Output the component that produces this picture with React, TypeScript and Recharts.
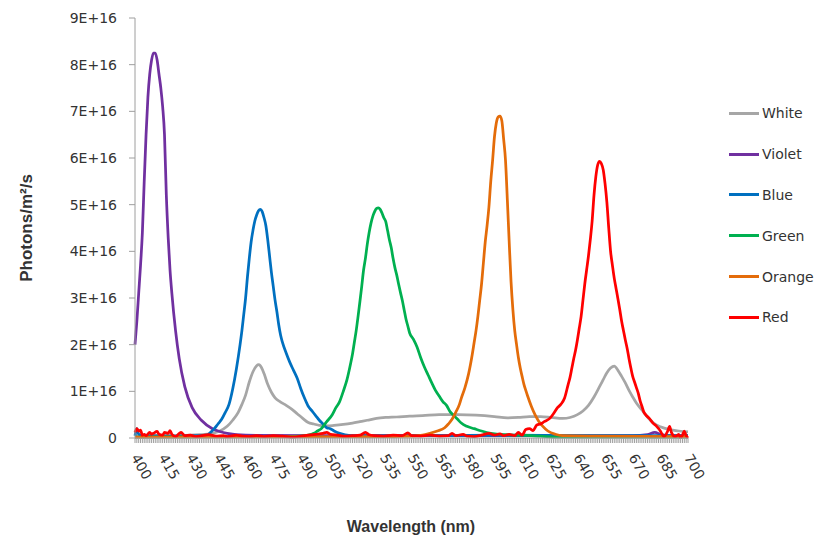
import { LineChart, Line, XAxis, YAxis, Label } from 'recharts'

// values are in units of 1E+16 photons/m²/s
const SERIES_NAMES = ['White', 'Violet', 'Blue', 'Green', 'Orange', 'Red']
const SERIES_COLORS = ['#A6A6A6', '#7030A0', '#0070C0', '#00B050', '#E46C0A', '#FF0000']

const X_LABELS = [400, 415, 430, 445, 460, 475, 490, 505, 520, 535, 550, 565, 580, 595, 610, 625, 640, 655, 670, 685, 700]
const Y_TICKS = [0, 1, 2, 3, 4, 5, 6, 7, 8, 9]

const white: [number, number][] = [
  [400, 0.05], [420, 0.05], [435, 0.07], [442, 0.1], [446, 0.15], [450, 0.25], [453, 0.38], [456, 0.55],
  [458, 0.72], [460, 0.92], [462, 1.2], [464, 1.42], [466, 1.55], [467, 1.57], [468, 1.55], [470, 1.38],
  [472, 1.15], [474, 0.98], [476, 0.86], [479, 0.77], [482, 0.7], [485, 0.62], [488, 0.52], [491, 0.42],
  [494, 0.33], [497, 0.3], [500, 0.27], [504, 0.26], [508, 0.27], [513, 0.29], [518, 0.32], [522, 0.35],
  [526, 0.38], [531, 0.42], [536, 0.44], [542, 0.45], [549, 0.47], [556, 0.48], [565, 0.5], [575, 0.5],
  [585, 0.49], [595, 0.46], [602, 0.43], [608, 0.44], [614, 0.46], [620, 0.46], [626, 0.44], [632, 0.42],
  [636, 0.44], [640, 0.5], [643, 0.58], [646, 0.7], [649, 0.88], [652, 1.1], [654, 1.25], [656, 1.4],
  [658, 1.5], [660, 1.54], [662, 1.45], [664, 1.32], [666, 1.18], [668, 1.02], [670, 0.88], [672, 0.75],
  [675, 0.6], [678, 0.45], [681, 0.33], [685, 0.24], [690, 0.18], [695, 0.15], [700, 0.13],
]

const violet: [number, number][] = [
  [400, 2.0], [401, 2.5], [402, 3.1], [403, 3.7], [404, 4.4], [405, 5.5], [406, 6.5], [407, 7.3],
  [408, 7.8], [409, 8.1], [410, 8.25], [411, 8.25], [412, 8.1], [413, 7.8], [414, 7.5], [415, 7.1],
  [416, 6.5], [417, 5.2], [418, 4.3], [419, 3.6], [420, 3.1], [422, 2.3], [424, 1.7], [427, 1.1],
  [431, 0.65], [436, 0.38], [442, 0.2], [446, 0.14], [450, 0.1], [460, 0.06], [500, 0.05], [600, 0.05],
  [670, 0.05], [678, 0.07], [682, 0.12], [685, 0.08], [690, 0.05], [700, 0.05],
]

const blue: [number, number][] = [
  [400, 0.05], [401, 0.2], [402, 0.08], [405, 0.05], [420, 0.04], [430, 0.05], [435, 0.05], [439, 0.06],
  [441, 0.12], [443, 0.2], [445, 0.3], [447, 0.4], [449, 0.55], [451, 0.72], [453, 1.05], [455, 1.48],
  [457, 2.0], [458, 2.3], [459, 2.65], [460, 3.0], [461, 3.45], [462, 3.85], [463, 4.2], [464, 4.45],
  [465, 4.65], [466, 4.78], [467, 4.87], [468, 4.9], [469, 4.85], [470, 4.72], [471, 4.55], [472, 4.25],
  [473, 3.9], [474, 3.55], [475, 3.25], [476, 2.95], [477, 2.7], [478, 2.42], [479, 2.2], [480, 2.05],
  [482, 1.82], [484, 1.62], [486, 1.45], [488, 1.28], [490, 1.05], [492, 0.85], [494, 0.68], [496, 0.58],
  [498, 0.48], [500, 0.38], [502, 0.3], [504, 0.22], [506, 0.2], [508, 0.15], [511, 0.1], [514, 0.07],
  [520, 0.05], [560, 0.05], [600, 0.06], [640, 0.05], [700, 0.05],
]

const green: [number, number][] = [
  [400, 0.02], [480, 0.03], [490, 0.04], [494, 0.06], [497, 0.1], [499, 0.15], [501, 0.2], [504, 0.35],
  [507, 0.5], [509, 0.65], [511, 0.78], [513, 1.0], [515, 1.25], [517, 1.6], [518, 1.8], [519, 2.05],
  [520, 2.3], [521, 2.6], [522, 2.92], [523, 3.25], [524, 3.6], [525, 3.85], [526, 4.15], [527, 4.4],
  [528, 4.6], [529, 4.75], [530, 4.85], [531, 4.92], [532, 4.93], [533, 4.9], [534, 4.82], [535, 4.72],
  [536, 4.64], [537, 4.45], [538, 4.25], [539, 4.08], [540, 3.85], [541, 3.65], [542, 3.49], [543, 3.3],
  [544, 3.12], [545, 2.95], [546, 2.75], [547, 2.55], [548, 2.4], [549, 2.25], [551, 2.12], [553, 1.95],
  [555, 1.72], [557, 1.52], [559, 1.35], [561, 1.18], [563, 1.02], [565, 0.9], [567, 0.78], [569, 0.7],
  [571, 0.56], [573, 0.48], [575, 0.4], [577, 0.32], [580, 0.25], [584, 0.2], [588, 0.15], [593, 0.1],
  [600, 0.07], [610, 0.06], [620, 0.04], [630, 0.02], [700, 0.02],
]

const orange: [number, number][] = [
  [400, 0.02], [540, 0.03], [550, 0.04], [556, 0.06], [560, 0.1], [564, 0.15], [568, 0.22], [570, 0.3],
  [572, 0.4], [574, 0.55], [576, 0.72], [577, 0.85], [579, 1.08], [581, 1.38], [583, 1.8], [584, 2.05],
  [585, 2.3], [586, 2.6], [587, 2.95], [588, 3.3], [589, 3.75], [590, 4.2], [591, 4.55], [592, 4.95],
  [593, 5.5], [594, 5.95], [595, 6.45], [596, 6.75], [597, 6.88], [598, 6.9], [599, 6.8], [600, 6.4],
  [601, 5.95], [602, 5.1], [603, 4.2], [604, 3.35], [605, 2.75], [606, 2.3], [607, 2.0], [608, 1.72],
  [609, 1.5], [610, 1.32], [611, 1.15], [612, 1.02], [613, 0.9], [615, 0.68], [617, 0.5], [619, 0.36],
  [621, 0.26], [624, 0.15], [628, 0.08], [632, 0.05], [650, 0.04], [700, 0.03],
]

const red: [number, number][] = [
  [400, 0.12], [401, 0.2], [402, 0.15], [403, 0.17], [404, 0.06], [405, 0.08], [406, 0.05], [408, 0.12],
  [409, 0.08], [410, 0.1], [412, 0.14], [413, 0.08], [415, 0.06], [416, 0.12], [418, 0.1], [419, 0.16],
  [420, 0.08], [422, 0.03], [424, 0.1], [425, 0.12], [427, 0.05], [430, 0.06], [433, 0.03], [436, 0.05],
  [440, 0.07], [444, 0.04], [448, 0.05], [450, 0.03], [455, 0.06], [458, 0.04], [462, 0.03], [466, 0.05],
  [470, 0.03], [475, 0.05], [480, 0.04], [486, 0.02], [490, 0.04], [494, 0.06], [498, 0.08], [502, 0.1],
  [504, 0.12], [506, 0.08], [510, 0.06], [514, 0.04], [518, 0.05], [522, 0.06], [525, 0.12], [527, 0.07],
  [530, 0.05], [535, 0.04], [540, 0.06], [545, 0.05], [548, 0.11], [550, 0.05], [555, 0.04], [560, 0.06],
  [565, 0.04], [570, 0.05], [572, 0.1], [574, 0.05], [578, 0.08], [580, 0.04], [584, 0.03], [588, 0.06],
  [592, 0.1], [595, 0.06], [598, 0.09], [600, 0.05], [603, 0.08], [606, 0.05], [608, 0.12], [610, 0.06],
  [612, 0.18], [614, 0.2], [616, 0.16], [618, 0.28], [620, 0.3], [622, 0.35], [625, 0.42], [627, 0.52],
  [629, 0.64], [631, 0.72], [633, 0.85], [635, 1.15], [636, 1.3], [637, 1.5], [638, 1.7], [639, 1.88],
  [640, 2.1], [641, 2.35], [642, 2.6], [643, 2.95], [644, 3.3], [645, 3.6], [646, 3.9], [647, 4.25],
  [648, 4.65], [649, 5.2], [650, 5.6], [651, 5.85], [652, 5.93], [653, 5.88], [654, 5.75], [655, 5.45],
  [656, 5.05], [657, 4.5], [658, 4.0], [659, 3.7], [660, 3.42], [661, 3.2], [662, 2.98], [663, 2.75],
  [664, 2.5], [665, 2.3], [666, 2.1], [667, 1.92], [668, 1.7], [669, 1.5], [670, 1.32], [671, 1.2],
  [672, 1.08], [673, 0.96], [674, 0.8], [675, 0.68], [676, 0.56], [677, 0.5], [679, 0.42], [681, 0.32],
  [683, 0.25], [685, 0.15], [686, 0.08], [687, 0.03], [689, 0.15], [690, 0.25], [691, 0.12], [693, 0.03],
  [695, 0.08], [696, 0.01], [697, 0.06], [698, 0.15], [699, 0.05], [700, 0.0],
]

const SERIES_DATA = [white, violet, blue, green, orange, red]

// one small tick per nm, like the category axis of the original
const MINOR_TICKS = Array.from({ length: 301 }, (_, i) => 400 + i)

const FONT = '"DejaVu Sans", sans-serif'
const TITLE_FONT = '"Liberation Sans", sans-serif'
const TEXT_COLOR = '#333'
const AXIS_COLOR = '#9e9e9e'

function WavelengthTick({ x, y, payload }: any) {
  if (!X_LABELS.includes(payload.value)) return null
  const ty = y + 10
  return (
    <text
      x={x}
      y={ty}
      transform={`rotate(60, ${x}, ${ty})`}
      textAnchor="start"
      dominantBaseline="central"
      fontSize={14}
      fontFamily={FONT}
      fill={TEXT_COLOR}
    >
      {payload.value}
    </text>
  )
}

export default function App() {
  return (
    <div style={{ position: 'absolute', left: 0, top: 0, width: 814, height: 540, background: '#fff' }}>
      <LineChart width={814} height={540} margin={{ top: 18, right: 126, bottom: 6, left: 0 }}>
        <XAxis
          type="number"
          dataKey="nm"
          domain={[400, 700]}
          ticks={MINOR_TICKS}
          interval={0}
          tick={<WavelengthTick />}
          tickSize={5}
          tickMargin={2}
          height={96}
          stroke={AXIS_COLOR}
          allowDuplicatedCategory={false}
        >
          <Label
            content={() => (
              <text x={411} y={532} textAnchor="middle" fontSize={16} fontWeight="bold"
                fontFamily={TITLE_FONT} fill={TEXT_COLOR}>
                Wavelength (nm)
              </text>
            )}
          />
        </XAxis>
        <YAxis
          type="number"
          domain={[0, 9]}
          ticks={Y_TICKS}
          interval={0}
          width={135}
          tickSize={6}
          tickMargin={12}
          stroke={AXIS_COLOR}
          tick={{ fontSize: 14, fontFamily: FONT, fill: TEXT_COLOR }}
          tickFormatter={(v: number) => (v === 0 ? '0' : `${v}E+16`)}
        >
          <Label
            content={() => (
              <text x={26} y={228} transform="rotate(-90, 26, 228)" textAnchor="middle" dominantBaseline="central"
                fontSize={17} fontWeight="bold" fontFamily={TITLE_FONT} fill={TEXT_COLOR}>
                Photons/m²/s
              </text>
            )}
          />
        </YAxis>
        {SERIES_NAMES.map((name, i) => (
          <Line
            key={name}
            name={name}
            data={SERIES_DATA[i].map(([nm, v]) => ({ nm, v }))}
            dataKey="v"
            type="monotone"
            stroke={SERIES_COLORS[i]}
            strokeWidth={2.75}
            dot={false}
            activeDot={false}
            isAnimationActive={false}
          />
        ))}
      </LineChart>
      <div style={{ position: 'absolute', left: 729, top: 93, fontFamily: FONT, fontSize: 14, color: TEXT_COLOR }}>
        {SERIES_NAMES.map((name, i) => (
          <div key={name} style={{ display: 'flex', alignItems: 'center', height: 40.8 }}>
            <span style={{ display: 'inline-block', width: 30, height: 3, background: SERIES_COLORS[i], marginRight: 3 }} />
            <span>{name}</span>
          </div>
        ))}
      </div>
    </div>
  )
}
